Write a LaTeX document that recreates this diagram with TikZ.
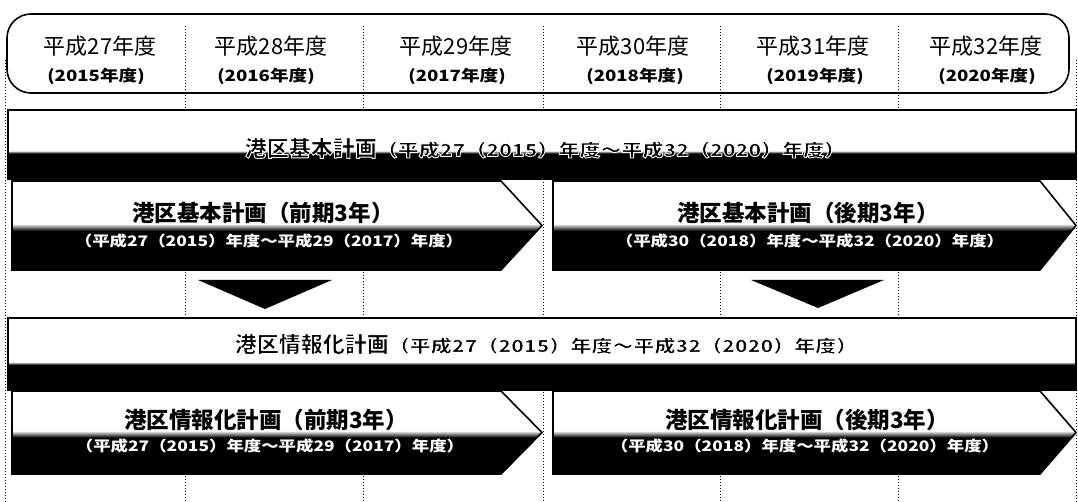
\documentclass[tikz,border=0pt]{standalone}
\usepackage{fontspec}
\newfontfamily\jp{Noto Sans CJK JP}
\newfontfamily\jpw[FakeStretch=1.2]{Noto Sans CJK JP}
\newcommand\haloon{\special{pdf:literal direct 1 1 1 RG 0.9 w 1 j 2 Tr}}
\newcommand\halooff{\special{pdf:literal direct 0 Tr}}
\pgfdeclareverticalshading{bandshadeA}{100bp}{color(0bp)=(black); color(43.5bp)=(black); color(45.5bp)=(white); color(100bp)=(white)}
\pgfdeclareverticalshading{bandshadeB}{100bp}{color(0bp)=(black); color(42.5bp)=(black); color(44.5bp)=(white); color(100bp)=(white)}
\pgfdeclareverticalshading{chevshade}{100bp}{color(0bp)=(black); color(47bp)=(black); color(51bp)=(white); color(100bp)=(white)}
\tikzset{
  gridline/.style={line width=1pt, dash pattern=on 1.2pt off 1.8pt},
  outline/.style={draw=black, line width=1.6pt},
  chevbox/.style={outline, shading=chevshade},
  hmain/.style={font=\jp\fontsize{22}{26}\selectfont, inner sep=0pt},
  hsub/.style={font=\jpw\bfseries\fontsize{15.5}{19}\selectfont, inner sep=0pt},
  btitle/.style={inner sep=0pt, text=black},
  ctitle/.style={font=\jp\bfseries\fontsize{22.5}{26}\selectfont, inner sep=0pt, text=black},
  csub/.style={font=\jpw\bfseries\fontsize{14.5}{17}\selectfont, inner sep=0pt, text=white},
  arrowtri/.style={fill=black}
}
\begin{document}
\begin{tikzpicture}[x=1pt,y=-1pt]
\useasboundingbox (0,0) rectangle (1078,502);
% column grid (dotted)
\draw[gridline] (5,60) -- (5,502);
\foreach \gx in {185,363,543,720,898}{\draw[gridline] (\gx,26) -- (\gx,502);}
\draw[gridline] (1076.5,60) -- (1076.5,502);
% header
\draw[line width=1.6pt, rounded corners=24pt] (7,14) rectangle (1069,93);
\node[hmain] (h1m) at (100,46) {平成27年度};
\node[hmain] (h2m) at (271,46) {平成28年度};
\node[hmain] (h3m) at (456,46) {平成29年度};
\node[hmain] (h4m) at (633,46) {平成30年度};
\node[hmain] (h5m) at (813,46) {平成31年度};
\node[hmain] (h6m) at (986,46) {平成32年度};
\node[hsub] (h1s) at (96,76) {(2015年度)};
\node[hsub] (h2s) at (266,76) {(2016年度)};
\node[hsub] (h3s) at (457,76) {(2017年度)};
\node[hsub] (h4s) at (635,76) {(2018年度)};
\node[hsub] (h5s) at (815,76) {(2019年度)};
\node[hsub] (h6s) at (987,76) {(2020年度)};
% band 1
\path[outline, shading=bandshadeA] (8,110) rectangle (1076,179);
\node[btitle] (b1) at (545,148) {\haloon{\jp\bfseries\fontsize{22}{24}\selectfont 港区基本計画}{\jpw\bfseries\fontsize{17.5}{22}\selectfont （平成27（2015）年度～平成32（2020）年度）}\halooff};
% chevrons row 1
\path[chevbox] (12,181) -- (501,181) -- (542,225.5) -- (501,270) -- (12,270) -- cycle;
\path[chevbox] (553,181) -- (1040,181) -- (1076,225.5) -- (1040,270) -- (553,270) -- cycle;
\node[ctitle] (c1t) at (263,213) {港区基本計画（前期3年）};
\node[csub] (c1s) at (269,241) {（平成27（2015）年度～平成29（2017）年度）};
\node[ctitle] (c2t) at (808,213) {港区基本計画（後期3年）};
\node[csub] (c2s) at (810,241) {（平成30（2018）年度～平成32（2020）年度）};
% down arrows
\path[arrowtri] (198,280) -- (332,280) -- (265,309) -- cycle;
\path[arrowtri] (751,280) -- (884,280) -- (818,308) -- cycle;
% band 2
\path[outline, shading=bandshadeB] (8,318) rectangle (1076,390);
\node[btitle] (b2) at (546,344) {\haloon{\jp\bfseries\fontsize{22}{24}\selectfont 港区情報化計画}{\jpw\bfseries\fontsize{17.5}{22}\selectfont （平成27（2015）年度～平成32（2020）年度）}\halooff};
% chevrons row 2
\path[chevbox] (12,391) -- (501,391) -- (542,432.5) -- (501,474) -- (12,474) -- cycle;
\path[chevbox] (553,391) -- (1040,391) -- (1076,432.5) -- (1040,474) -- (553,474) -- cycle;
\node[ctitle] (d1t) at (266,420) {港区情報化計画（前期3年）};
\node[csub] (d1s) at (270,446) {（平成27（2015）年度～平成29（2017）年度）};
\node[ctitle] (d2t) at (807,420) {港区情報化計画（後期3年）};
\node[csub] (d2s) at (805,446) {（平成30（2018）年度～平成32（2020）年度）};
\end{tikzpicture}
\end{document}
